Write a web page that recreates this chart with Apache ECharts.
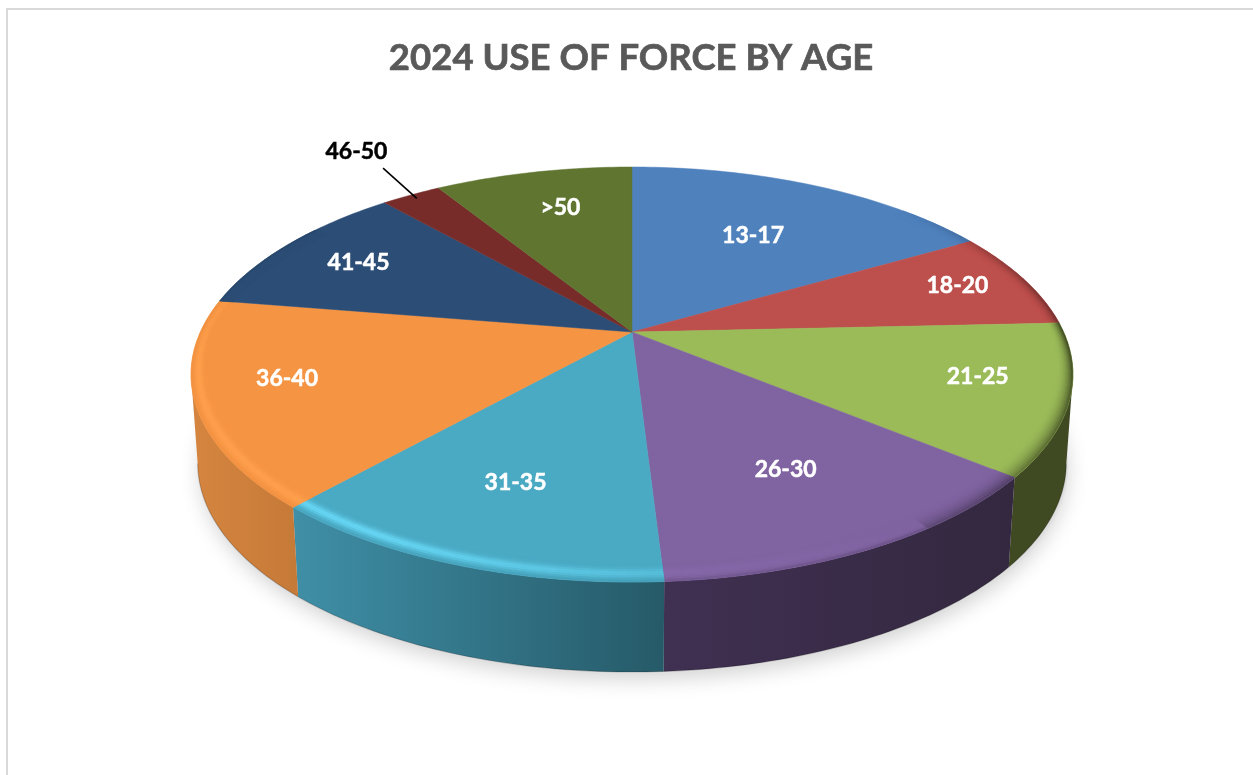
<!DOCTYPE html>
<html>
<head>
<meta charset="utf-8">
<title>2024 Use of Force by Age</title>
<script src="https://cdn.jsdelivr.net/npm/echarts@6/dist/echarts.min.js"></script>
<style>html,body{margin:0;padding:0;background:#fff}#c{width:1253px;height:775px}</style>
</head>
<body>
<div id="c"></div>
<script>
// ---- data (share of the whole, %) ----
var categories = ['13-17','18-20','21-25','26-30','31-35','36-40','41-45','46-50','>50'];
var shares = [16.64,7.64,11.72,13.06,12.53,16.0,10.92,2.67,8.83];
var chartTitle = '2024 USE OF FORCE BY AGE';

// ---- styles ----
var topColors  = ['#4f81bd','#bd4f4c','#9bbb59','#8063a1','#4aa9c3','#f59443','#2c4d75','#772c2a','#5f7530'];
var glowColors = ['#4f81bd','#bd4f4c','#9bbb59','#8d6fb2','#66d6f4','#ffa04d','#2c4d75','#772c2a','#5f7530'];
var sideFrom   = ['#2f4d71','#712f2d','#3f4a22','#403052','#3f8fa7','#d5853f','#1a2e46','#471a19','#38461c'];
var sideTo     = ['#2f4d71','#712f2d','#3f4a22','#33283f','#265a68','#c67a38','#1a2e46','#471a19','#38461c'];
var labelColors= ['#fff','#fff','#fff','#fff','#fff','#fff','#fff','#000','#fff'];
var labelRadius= [.624,.83,.795,.68,.695,.795,.78,1.36,.74];
var labelTurn  = [0,-1,-3,-.4,.5,3,0,1.4,1];

// ---- projection of the tilted disc ----
var CX=632, CY=332, RX=431.6, RY=198.8, K=0.2048, DEPTH=88, TAPER=0.985;
var WALL_FROM=102, WALL_TO=258; // angles where the rim turns away from the viewer
var rad=function(d){return d*Math.PI/180;};
function facePt(theta,r){
  var u=r*Math.sin(rad(theta)), v=r*Math.cos(rad(theta)), w=1+K*v;
  return [CX+RX*u/w, CY-RY*v/w];
}
function basePt(theta){
  var p=facePt(theta,1);
  return [CX+(p[0]-CX)*TAPER, p[1]+DEPTH+Math.max(0,-Math.cos(rad(theta)))*2];
}
// slice boundaries in degrees, clockwise from 12 o'clock
var total=shares.reduce(function(a,b){return a+b;},0);
var bounds=[0];
shares.forEach(function(s,i){bounds.push(bounds[i]+s/total*360);});

function arc(fn,a,b,step){
  var pts=[], n=Math.max(2,Math.ceil((b-a)/step));
  for(var i=0;i<=n;i++){pts.push(fn(a+(b-a)*i/n));}
  return pts;
}
function hex(c){return [parseInt(c.slice(1,3),16),parseInt(c.slice(3,5),16),parseInt(c.slice(5,7),16)];}
function mix(a,b,t){return [a[0]+(b[0]-a[0])*t,a[1]+(b[1]-a[1])*t,a[2]+(b[2]-a[2])*t];}
function css(c){return 'rgb('+Math.round(c[0])+','+Math.round(c[1])+','+Math.round(c[2])+')';}
function clamp(x){return Math.max(0,Math.min(1,x));}

function rimPieces(i){
  var out=[], a=bounds[i], b=bounds[i+1], base=hex(topColors[i]), glow=hex(glowColors[i]);
  var side=hex(sideTo[i]), from=hex(sideFrom[i]);
  var LAYERS=9, STEP=2, n=Math.max(1,Math.ceil((b-a)/STEP));
  for(var s=0;s<n;s++){
    var t0=a+(b-a)*s/n, t1=a+(b-a)*(s+1)/n, tm=(t0+t1)/2;
    var h=Math.cos(rad(tm-235));
    var fade=clamp((305-tm)/45)*clamp((tm-45)/45);
    if(fade<=0) continue;
    var dr=0.03+0.03*Math.abs(Math.cos(rad(tm)));
    for(var l=0;l<LAYERS;l++){
      var t=(l+.5)/LAYERS, col=base;
      if(h>0){
        var bump=Math.exp(-Math.pow((t-.55)/.24,2));
        col=mix(base,glow,clamp(Math.pow(h,1.4)*1.15)*bump*fade);
        if(t>.8) col=mix(col,mix(from,side,.5),((t-.8)/.2)*.35*(1-h*.7));
      } else {
        var dark=Math.pow(t,2.2)*(1-h*.25);
        col=mix(base,side,clamp(dark*fade*(0.45+(-h)*.55)));
      }
      var r0=1-dr*(1-l/LAYERS), r1=1-dr*(1-(l+1)/LAYERS);
      var pts=[facePt(t0,r0),facePt(t1,r0),facePt(t1,r1),facePt(t0,r1)];
      out.push({type:'polygon',silent:true,shape:{points:pts},
        style:{fill:css(col),stroke:css(col),lineWidth:.5}});
    }
  }
  return out;
}

var option={
  animation:false,
  backgroundColor:'#ffffff',
  title:{text:chartTitle,left:626,top:35,textAlign:'center',
    textStyle:{fontFamily:'Lato',fontWeight:'bold',fontSize:36.5,color:'#595959',
      textBorderColor:'#595959',textBorderWidth:.7}},
  graphic:[
    {type:'rect',silent:true,shape:{x:6,y:8,width:1247,height:2},style:{fill:'#d9d9d9'}},
    {type:'rect',silent:true,shape:{x:6,y:8,width:2,height:767},style:{fill:'#d9d9d9'}}
  ],
  series:[
    { // soft ground shadow
      type:'custom',name:'shadow',coordinateSystem:'none',silent:true,data:[total],z:1,
      renderItem:function(){
        var pts=arc(basePt,0,360,3).map(function(p){return [p[0]+2,p[1]+3];});
        return {type:'polygon',shape:{points:pts},
          style:{fill:'#e0e0e0',shadowBlur:20,shadowColor:'rgba(0,0,0,0.17)',shadowOffsetY:5}};
      }
    },
    { // outer wall of each slice: only the part of the rim that faces the viewer
      type:'custom',name:'wall',coordinateSystem:'none',silent:true,z:2,
      data:shares.map(function(v,i){return [i,v];}),
      renderItem:function(params,api){
        var i=api.value(0), a=Math.max(bounds[i],WALL_FROM), b=Math.min(bounds[i+1],WALL_TO);
        if(b<=a) return {type:'group',children:[]};
        var up=arc(function(t){return facePt(t,1);},a,b,1);
        var lo=arc(basePt,a,b,1);
        var xs=up.concat(lo).map(function(p){return p[0];});
        var x0=Math.min.apply(null,xs), x1=Math.max.apply(null,xs);
        return {type:'group',children:[
          {type:'polygon',shape:{points:up.concat(lo.slice().reverse())},
           style:{fill:new echarts.graphic.LinearGradient(x0,0,x1,0,
             [{offset:0,color:sideFrom[i]},{offset:1,color:sideTo[i]}],true),stroke:null}},
          {type:'polyline',shape:{points:lo},style:{fill:null,stroke:'rgba(0,0,0,0.2)',lineWidth:1.2}}
        ]};
      }
    },
    { // top face of each slice with its bevelled rim
      type:'custom',name:'face',coordinateSystem:'none',silent:true,z:3,
      data:shares.map(function(v,i){return [i,v];}),
      renderItem:function(params,api){
        var i=api.value(0);
        var pts=[facePt(0,0)].concat(arc(function(t){return facePt(t,1);},bounds[i],bounds[i+1],1));
        return {type:'group',children:[
          {type:'polygon',shape:{points:pts},style:{fill:topColors[i],stroke:topColors[i],lineWidth:.5}}
        ].concat(rimPieces(i))};
      }
    },
    { // data labels
      type:'custom',name:'labels',coordinateSystem:'none',silent:true,z:4,
      data:shares.map(function(v,i){return [i,v];}),
      renderItem:function(params,api){
        var i=api.value(0), mid=(bounds[i]+bounds[i+1])/2;
        var p=facePt(mid+labelTurn[i],labelRadius[i]);
        var kids=[{type:'text',x:p[0],y:p[1],style:{text:categories[i],fill:labelColors[i],
          stroke:labelColors[i],lineWidth:.5,
          font:'bold 23px Lato',textAlign:'center',textVerticalAlign:'middle'}}];
        if(labelRadius[i]>1){
          var s=facePt(mid+1.6,1.21), e=facePt(mid,.97);
          kids.push({type:'line',shape:{x1:s[0],y1:s[1],x2:e[0],y2:e[1]},style:{stroke:'#000',lineWidth:1.6}});
        }
        return {type:'group',children:kids};
      }
    }
  ]
};
var chart=echarts.init(document.getElementById('c'),null,{renderer:'canvas'});
chart.setOption(option);
</script>
</body>
</html>
